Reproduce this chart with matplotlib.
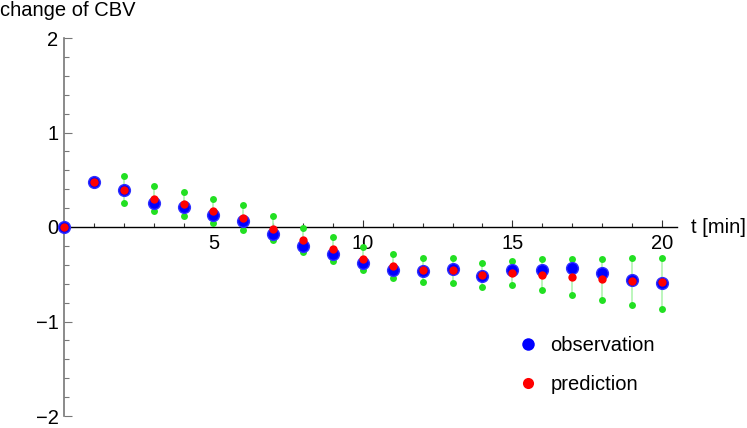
import matplotlib
matplotlib.use("Agg")
import matplotlib.pyplot as plt
from matplotlib.lines import Line2D
from matplotlib.ticker import MultipleLocator

plt.rcParams['font.family'] = ['Liberation Sans', 'DejaVu Sans']

t = list(range(0, 21))
observation = [0.0, 0.473, 0.39, 0.257, 0.215, 0.127, 0.067, -0.074, -0.201, -0.282,
               -0.381, -0.455, -0.462, -0.448, -0.518, -0.455, -0.455, -0.437, -0.487,
               -0.564, -0.589]
prediction = [0.0, 0.473, 0.39, 0.30, 0.24, 0.169, 0.099, -0.021, -0.138, -0.236,
              -0.335, -0.413, -0.455, -0.452, -0.504, -0.483, -0.504, -0.529, -0.55,
              -0.571, -0.585]
t_band = list(range(2, 21))
upper = [0.54, 0.434, 0.374, 0.296, 0.229, 0.116, -0.01, -0.109, -0.208, -0.286,
         -0.324, -0.331, -0.377, -0.356, -0.342, -0.335, -0.335, -0.324, -0.324]
lower = [0.25, 0.173, 0.116, 0.042, -0.028, -0.141, -0.265, -0.363, -0.459, -0.543,
         -0.582, -0.589, -0.635, -0.61, -0.67, -0.723, -0.772, -0.822, -0.868]

xticks = [5, 10, 15, 20]
yticks = [-2, -1, 0, 1, 2]

FS = 14.5

fig = plt.figure(figsize=(7.47, 4.28), dpi=100)
ax = fig.add_axes([64/747, 12/428, (676.7-64)/747, 378/428])
ax.set_xlim(0, 20.5)
ax.set_ylim(-2, 2)

green = '#22e022'
for x, u, l in zip(t_band, upper, lower):
    ax.plot([x, x], [l, u], color='#b0f5b0', lw=1.2, zorder=2, clip_on=False)
ax.plot(t_band, upper, 'o', color=green, ms=5, mec='none', zorder=3, clip_on=False)
ax.plot(t_band, lower, 'o', color=green, ms=5, mec='none', zorder=3, clip_on=False)
ax.plot(t, observation, 'o', color='#0000ff', ms=8.5, mec='#3030ff', zorder=4, clip_on=False)
ax.plot(t, prediction, 'o', color='#ff0000', ms=6, mec='none', zorder=5, clip_on=False)

for s in ['top', 'right']:
    ax.spines[s].set_visible(False)
ax.spines['left'].set_position(('data', 0))
ax.spines['bottom'].set_position(('data', 0))
ax.spines['left'].set_color('#777777')
ax.spines['bottom'].set_color('#000000')
ax.spines['left'].set_linewidth(1.2)
ax.spines['bottom'].set_linewidth(1.0)

ax.set_xticks(xticks)
ax.set_yticks(yticks)
ax.set_yticklabels(['\u22122', '\u22121', '0', '1', '2'])
ax.xaxis.set_minor_locator(MultipleLocator(1))
ax.yaxis.set_minor_locator(MultipleLocator(0.2))
ax.tick_params(axis='x', which='major', direction='in', length=5, width=0.8, color='#333333',
               labelsize=FS, pad=5)
ax.tick_params(axis='x', which='minor', direction='in', length=3, width=0.8, color='#333333')
ax.tick_params(axis='y', which='major', direction='in', length=6, width=0.8, color='#777777',
               labelsize=FS, pad=4)
ax.tick_params(axis='y', which='minor', direction='in', length=3.5, width=0.8, color='#777777')

fig.text(0, 1 - 11/428, 'change of CBV', fontsize=FS, ha='left', va='center')
fig.text(691/747, 1 - 228/428, 't [min]', fontsize=FS, ha='left', va='center')

handles = [Line2D([], [], marker='o', ls='', color='#0000ff', ms=9, mec='none'),
           Line2D([], [], marker='o', ls='', color='#ff0000', ms=8, mec='none')]
ax.legend(handles, ['observation', 'prediction'], loc='upper left',
          bbox_to_anchor=(518/747, 1 - 336/428), bbox_transform=fig.transFigure,
          frameon=False, fontsize=FS, handletextpad=0.6, labelspacing=1.0,
          handlelength=1.0, borderpad=0, borderaxespad=0)

fig.savefig('out.png', dpi=100)
